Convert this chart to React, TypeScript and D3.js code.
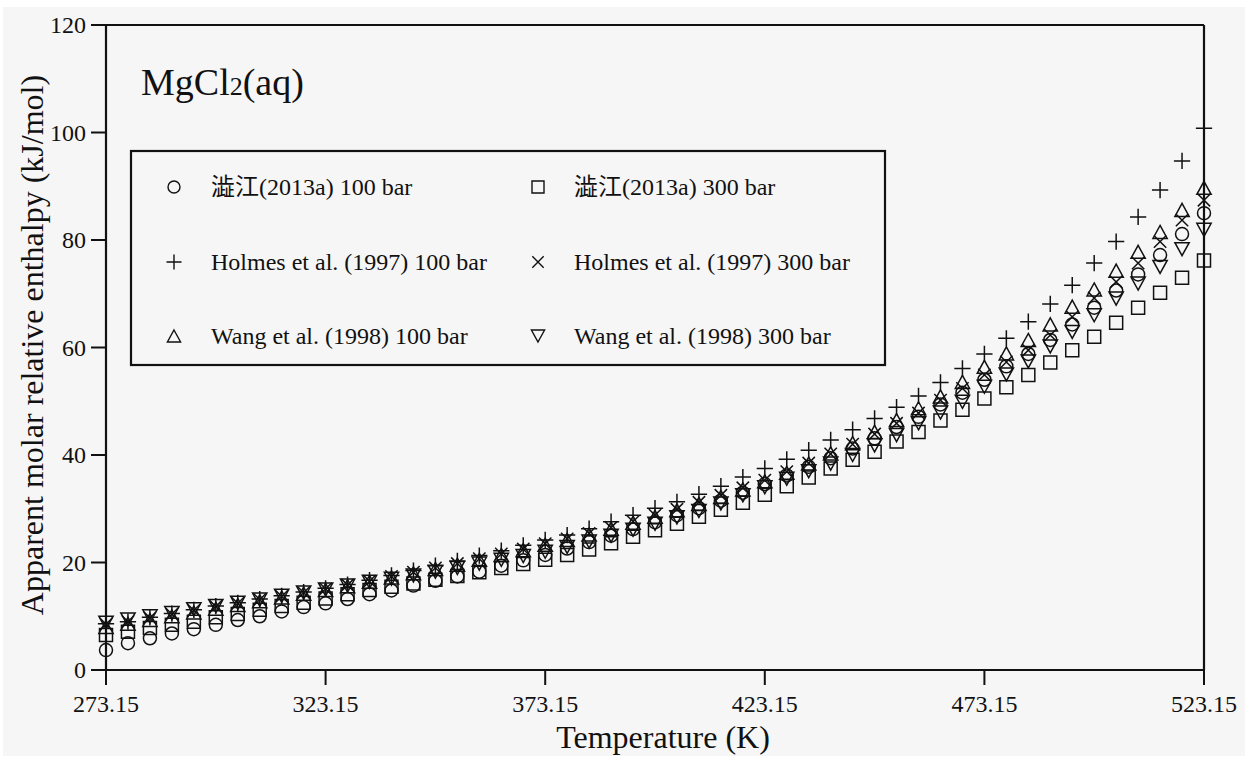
import React from 'react';
import * as d3 from 'd3';

// temperature grid (K)
const temps = [
  273.15, 278.15, 283.15, 288.15, 293.15, 298.15, 303.15, 308.15, 313.15, 318.15,
  323.15, 328.15, 333.15, 338.15, 343.15, 348.15, 353.15, 358.15, 363.15, 368.15,
  373.15, 378.15, 383.15, 388.15, 393.15, 398.15, 403.15, 408.15, 413.15, 418.15,
  423.15, 428.15, 433.15, 438.15, 443.15, 448.15, 453.15, 458.15, 463.15, 468.15,
  473.15, 478.15, 483.15, 488.15, 493.15, 498.15, 503.15, 508.15, 513.15, 518.15,
  523.15,
];

// apparent molar relative enthalpy (kJ/mol)
const shibue100 = [
  3.7, 5.0, 5.9, 6.8, 7.6, 8.4, 9.3, 10.0, 10.9, 11.7,
  12.4, 13.2, 14.1, 14.8, 15.7, 16.6, 17.4, 18.3, 19.4, 20.4,
  21.4, 22.6, 23.8, 25.0, 26.2, 27.5, 28.8, 30.1, 31.5, 33.0,
  34.6, 36.2, 37.8, 39.4, 41.2, 43.1, 45.2, 47.1, 49.4, 51.6,
  54.0, 56.5, 58.8, 61.4, 64.3, 67.4, 70.6, 73.6, 77.2, 81.1,
  85.0,
];
const shibue300 = [
  6.5, 7.1, 7.8, 8.4, 9.0, 9.8, 10.4, 11.2, 11.9, 12.5,
  13.3, 14.1, 14.9, 15.5, 16.1, 16.8, 17.5, 18.2, 19.0, 19.7,
  20.5, 21.4, 22.4, 23.6, 24.8, 26.0, 27.2, 28.5, 29.8, 31.1,
  32.6, 34.2, 35.8, 37.5, 39.1, 40.6, 42.5, 44.3, 46.4, 48.4,
  50.5, 52.6, 54.9, 57.2, 59.5, 62.0, 64.6, 67.4, 70.2, 73.0,
  76.2,
];
const holmes100 = [
  8.6, 9.0, 9.8, 10.5, 11.2, 11.9, 12.5, 13.2, 13.8, 14.5,
  15.2, 15.9, 16.7, 17.6, 18.5, 19.4, 20.3, 21.3, 22.2, 23.2,
  24.2, 25.1, 26.3, 27.6, 28.8, 30.1, 31.3, 32.7, 34.2, 35.9,
  37.5, 39.2, 40.9, 42.8, 44.7, 46.8, 48.9, 51.0, 53.5, 56.1,
  58.8, 61.7, 64.8, 68.1, 71.6, 75.7, 79.7, 84.3, 89.3, 94.7,
  100.8,
];
const holmes300 = [
  8.5, 9.0, 9.7, 10.4, 11.1, 11.8, 12.4, 13.1, 13.7, 14.4,
  15.1, 15.8, 16.5, 17.4, 18.2, 19.0, 19.8, 20.7, 21.6, 22.5,
  23.5, 24.4, 25.4, 26.5, 27.6, 28.8, 29.9, 31.2, 32.5, 33.9,
  35.3, 36.9, 38.5, 40.2, 42.0, 43.9, 45.9, 47.8, 50.2, 52.4,
  54.9, 57.3, 59.5, 62.3, 65.7, 69.2, 72.2, 75.7, 79.7, 83.7,
  87.4,
];
const wang100 = [
  8.0, 8.6, 9.3, 10.0, 10.7, 11.4, 12.1, 12.8, 13.5, 14.2,
  14.9, 15.6, 16.4, 17.2, 18.0, 18.8, 19.6, 20.5, 21.4, 22.3,
  23.3, 24.2, 25.2, 26.3, 27.4, 28.5, 29.7, 30.9, 32.2, 33.6,
  35.1, 36.7, 38.4, 40.3, 42.2, 44.3, 46.5, 48.7, 50.9, 53.6,
  56.4, 58.9, 61.4, 64.3, 67.6, 70.8, 74.3, 77.8, 81.5, 85.6,
  89.7,
];
const wang300 = [
  8.8, 9.4, 10.0, 10.6, 11.3, 11.9, 12.5, 13.1, 13.8, 14.4,
  15.0, 15.7, 16.4, 17.0, 17.6, 18.3, 19.0, 19.8, 20.5, 21.2,
  22.0, 22.9, 23.9, 25.0, 26.1, 27.2, 28.4, 29.6, 31.0, 32.5,
  34.0, 35.6, 37.0, 38.4, 40.0, 41.8, 43.7, 45.9, 47.9, 49.9,
  52.7, 55.0, 57.4, 60.2, 62.9, 66.0, 69.1, 71.9, 75.0, 78.3,
  81.9,
];

const xTicks = [273.15, 323.15, 373.15, 423.15, 473.15, 523.15];
const yTicks = [0, 20, 40, 60, 80, 100, 120];

type Shape = 'circle' | 'square' | 'plus' | 'cross' | 'triUp' | 'triDown';

const seriesList: { label: string; shape: Shape; values: number[] }[] = [
  { label: '澁江(2013a) 100 bar', shape: 'circle', values: shibue100 },
  { label: '澁江(2013a) 300 bar', shape: 'square', values: shibue300 },
  { label: 'Holmes et al. (1997) 100 bar', shape: 'plus', values: holmes100 },
  { label: 'Holmes et al. (1997) 300 bar', shape: 'cross', values: holmes300 },
  { label: 'Wang et al. (1998) 100 bar', shape: 'triUp', values: wang100 },
  { label: 'Wang et al. (1998) 300 bar', shape: 'triDown', values: wang300 },
];

const W = 1248;
const H = 759;
const margin = { left: 106, right: 44, top: 25, bottom: 89 };
const serif = "'Liberation Serif', 'Times New Roman', 'Noto Sans CJK JP', serif";

// marker outline path centred on (0,0)
function markerPath(shape: Shape, s: number) {
  const h = s / 2;
  switch (shape) {
    case 'circle': {
      const p = d3.path();
      p.arc(0, 0, h, 0, Math.PI * 2);
      p.closePath();
      return p.toString();
    }
    case 'square':
      return `M${-h},${-h}H${h}V${h}H${-h}Z`;
    case 'plus': {
      const a = h * 1.25;
      return `M${-a},0H${a}M0,${-a}V${a}`;
    }
    case 'cross': {
      const a = h * 0.95;
      return `M${-a},${-a}L${a},${a}M${-a},${a}L${a},${-a}`;
    }
    case 'triUp':
      return `M0,${-h}L${h * 1.1},${h}L${-h * 1.1},${h}Z`;
    case 'triDown':
      return `M0,${h}L${h * 1.1},${-h}L${-h * 1.1},${-h}Z`;
  }
}

export default function App() {
  const x = d3.scaleLinear().domain([273.15, 523.15]).range([margin.left, W - margin.right]);
  const y = d3.scaleLinear().domain([0, 120]).range([H - margin.bottom, margin.top]);
  const x0 = x.range()[0];
  const x1 = x.range()[1];
  const y0 = y.range()[0];
  const y1 = y.range()[1];

  const legendCols = [174, 538];
  const legendTextCols = [211, 574];
  const legendRows = [187, 262, 336];

  return (
    <svg
      width={W}
      height={H}
      style={{ position: 'absolute', left: 0, top: 0, background: '#ffffff' }}
      fontFamily={serif}
    >
      <rect x={3} y={7} width={W - 6} height={H - 10} fill="#f6f6f6" />

      {/* frame */}
      <g stroke="#111" strokeWidth={2.2} fill="none">
        <line x1={x0} x2={x1} y1={y0} y2={y0} />
        <line x1={x0} x2={x1} y1={y1} y2={y1} />
        <line x1={x0} x2={x0} y1={y0} y2={y1} />
        <line x1={x1} x2={x1} y1={y0} y2={y1} />
      </g>

      {/* x axis ticks */}
      {xTicks.map((t) => (
        <g key={t}>
          <line x1={x(t)} x2={x(t)} y1={y0} y2={y0 + 15} stroke="#111" strokeWidth={2} />
          <text x={x(t)} y={y0 + 42} textAnchor="middle" fontSize={24} fill="#111">
            {t.toFixed(2)}
          </text>
        </g>
      ))}

      {/* y axis ticks */}
      {yTicks.map((t) => (
        <g key={t}>
          <line x1={x0 - 15} x2={x0} y1={y(t)} y2={y(t)} stroke="#111" strokeWidth={2} />
          <text x={x0 - 20} y={y(t)} dy="0.35em" textAnchor="end" fontSize={24} fill="#111">
            {t}
          </text>
        </g>
      ))}

      <text x={663} y={748} textAnchor="middle" fontSize={32} fill="#111">
        Temperature (K)
      </text>
      <text
        transform={`translate(43,${(75 + 615) / 2}) rotate(-90)`}
        textAnchor="middle"
        fontSize={32}
        fill="#111"
      >
        Apparent molar relative enthalpy (kJ/mol)
      </text>

      <text x={141} y={95} fontSize={38} fill="#111">
        MgCl<tspan fontSize={26}>2</tspan>(aq)
      </text>

      {/* data markers */}
      {seriesList.map((s) => (
        <g key={s.label} fill="none" stroke="#111" strokeWidth={1.5}>
          {s.values.map((v, i) => (
            <path
              key={i}
              d={markerPath(s.shape, 13)}
              transform={`translate(${x(temps[i])},${y(v)})`}
            />
          ))}
        </g>
      ))}

      {/* legend */}
      <rect x={131} y={151} width={754} height={214} fill="#f6f6f6" stroke="#111" strokeWidth={2.2} />
      {seriesList.map((s, i) => {
        const col = i % 2;
        const row = Math.floor(i / 2);
        return (
          <g key={s.label}>
            <path
              d={markerPath(s.shape, 12)}
              transform={`translate(${legendCols[col]},${legendRows[row]})`}
              fill="none"
              stroke="#111"
              strokeWidth={1.4}
            />
            <text x={legendTextCols[col]} y={legendRows[row]} dy="0.35em" fontSize={24} fill="#111">
              {s.label}
            </text>
          </g>
        );
      })}
    </svg>
  );
}
